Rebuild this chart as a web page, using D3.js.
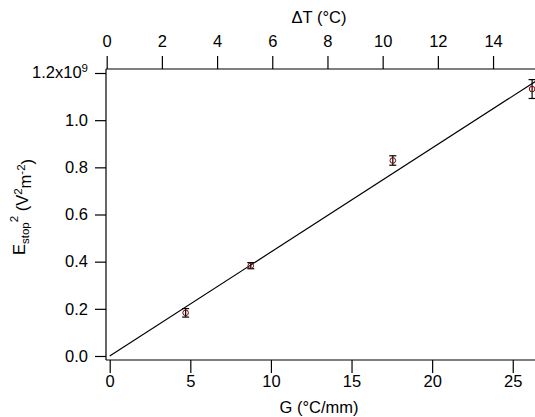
<!DOCTYPE html>
<html><head><meta charset="utf-8">
<script src="https://cdn.jsdelivr.net/npm/d3@7"></script>
<style>body{margin:0;background:#fff}svg{display:block;font-family:"Liberation Sans",Arial,sans-serif}</style>
</head><body><svg id="c" width="535" height="417"></svg>
<script>
const G = [4.71, 8.75, 17.56, 26.2];
const E2 = [0.183, 0.383, 0.829, 1.132];   // x1e9
const err = [0.018, 0.013, 0.02, 0.04];
const fitLine = [[0, 0], [26.4, 1.164]];
const yTicks = [0, 0.2, 0.4, 0.6, 0.8, 1.0, 1.2];
const xTicks = [0, 5, 10, 15, 20, 25];
const topTicks = [0, 2, 4, 6, 8, 10, 12, 14];

const FS = 16.5, SS = 11.5;
const svg = d3.select("#c");
const L = 106, R = 535, T = 69, B = 360;
const x = d3.scaleLinear().domain([-0.23, 26.38]).range([L, R]);
const xTop = d3.scaleLinear().domain([-0.025, 15.52]).range([L, R]);
const y = d3.scaleLinear().domain([-0.017, 1.217]).range([B, T]);

const fmtY = d => d.toFixed(1);
const gl = svg.append("g").attr("transform", `translate(${L},0)`)
  .call(d3.axisLeft(y).tickValues(yTicks).tickSize(11).tickPadding(7).tickFormat(d => d === 1.2 ? "" : fmtY(d)));
const gb = svg.append("g").attr("transform", `translate(0,${B})`)
  .call(d3.axisBottom(x).tickValues(xTicks).tickSize(13).tickPadding(2));
const gt = svg.append("g").attr("transform", `translate(0,${T})`)
  .call(d3.axisTop(xTop).tickValues(topTicks).tickSize(13).tickPadding(9));
[gl, gb, gt].forEach(g => {
  g.attr("font-size", FS).attr("font-family", "Liberation Sans, Arial, sans-serif");
  g.select(".domain").attr("stroke", "#000").attr("stroke-width", 1.2);
  g.selectAll(".tick line").attr("stroke", "#000").attr("stroke-width", 1.2);
  g.selectAll("text").attr("font-size", FS).attr("fill", "#000");
});
gl.select(".domain").attr("d", `M0,${B}V${T}`);
gb.select(".domain").attr("d", `M${L},0H${R}`);
gt.select(".domain").attr("d", `M${L},0H${R}`);

const lab = svg.append("text").attr("x", L - 18).attr("y", y(1.2)).attr("dy", "0.32em")
  .attr("text-anchor", "end").attr("font-size", FS);
lab.append("tspan").text("1.2x10");
lab.append("tspan").attr("dy", "-0.55em").attr("font-size", SS).text("9");

svg.append("text").attr("x", 319).attr("y", 23).attr("text-anchor", "middle").attr("font-size", FS).text("ΔT (°C)");
svg.append("text").attr("x", 319).attr("y", 413).attr("text-anchor", "middle").attr("font-size", FS).text("G (°C/mm)");
const yt = svg.append("text").attr("transform", `translate(25,207) rotate(-90)`)
  .attr("text-anchor", "middle").attr("font-size", FS);
yt.append("tspan").text("E");
yt.append("tspan").attr("dy", "0.35em").attr("font-size", SS).text("stop");
yt.append("tspan").attr("dy", "-0.95em").attr("font-size", SS).text("2");
yt.append("tspan").attr("dy", "0.6em").text(" (V");
yt.append("tspan").attr("dy", "-0.5em").attr("font-size", SS).text("2");
yt.append("tspan").attr("dy", "0.5em").text("m");
yt.append("tspan").attr("dy", "-0.5em").attr("font-size", SS).text("-2");
yt.append("tspan").attr("dy", "0.5em").text(")");

svg.append("path").datum(fitLine)
  .attr("d", d3.line().x(d => x(d[0])).y(d => y(d[1])))
  .attr("fill", "none").attr("stroke", "#000").attr("stroke-width", 1.2);

const pts = G.map((g, i) => ({ g, v: E2[i], e: err[i] }));
const eb = svg.append("g").attr("stroke", "#000").attr("stroke-width", 1.2);
pts.forEach(p => {
  const cx = x(p.g), y1 = y(p.v + p.e), y2 = y(p.v - p.e);
  eb.append("line").attr("x1", cx).attr("x2", cx).attr("y1", y1).attr("y2", y2);
  eb.append("line").attr("x1", cx - 3.5).attr("x2", cx + 3.5).attr("y1", y1).attr("y2", y1);
  eb.append("line").attr("x1", cx - 3.5).attr("x2", cx + 3.5).attr("y1", y2).attr("y2", y2);
});
svg.append("g").selectAll("circle").data(pts).join("circle")
  .attr("cx", d => x(d.g)).attr("cy", d => y(d.v)).attr("r", 2.8)
  .attr("fill", "none").attr("stroke", "#7a0000").attr("stroke-width", 1);
</script></body></html>
